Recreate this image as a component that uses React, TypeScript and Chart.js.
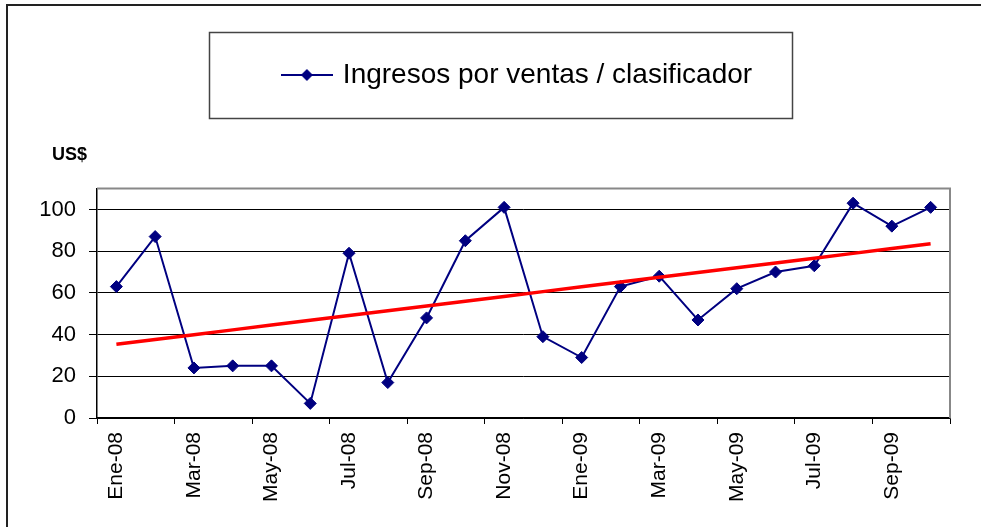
import React, { useEffect, useRef } from 'react';
import { Chart, registerables } from 'chart.js';

Chart.register(...registerables);

const months = ['Ene-08', 'Feb-08', 'Mar-08', 'Abr-08', 'May-08', 'Jun-08', 'Jul-08', 'Ago-08', 'Sep-08', 'Oct-08', 'Nov-08', 'Dic-08', 'Ene-09', 'Feb-09', 'Mar-09', 'Abr-09', 'May-09', 'Jun-09', 'Jul-09', 'Ago-09', 'Sep-09', 'Oct-09'];
const ingresos = [63, 87, 24, 25, 25, 7, 79, 17, 48, 85, 101, 39, 29, 63, 68, 47, 62, 70, 73, 103, 92, 101];
const seriesLabel = 'Ingresos por ventas / clasificador';
const yUnit = 'US$';
const yTicks = [0, 20, 40, 60, 80, 100];
const yMin = 0;
const yMax = 110;

// Excel-style linear trend line computed from the series (least squares)
function linearTrend(values: number[]): number[] {
  const n = values.length;
  const mx = (n - 1) / 2;
  const my = values.reduce((a, b) => a + b, 0) / n;
  let sxy = 0;
  let sxx = 0;
  values.forEach((v, i) => {
    sxy += (i - mx) * (v - my);
    sxx += (i - mx) * (i - mx);
  });
  const b = sxy / sxx;
  const a = my - b * mx;
  return values.map((_, i) => a + b * i);
}

const NAVY = '#000080';
const FONT = "'Liberation Sans', Arial, sans-serif";

export default function App() {
  const ref = useRef<HTMLCanvasElement | null>(null);

  useEffect(() => {
    document.body.style.margin = '0';
    const canvas = ref.current;
    if (!canvas) return;

    // legend marker: line with diamond
    const marker = document.createElement('canvas');
    marker.width = 52;
    marker.height = 16;
    const mctx = marker.getContext('2d')!;
    mctx.strokeStyle = NAVY;
    mctx.lineWidth = 2;
    mctx.beginPath();
    mctx.moveTo(0, 8);
    mctx.lineTo(52, 8);
    mctx.stroke();
    mctx.fillStyle = NAVY;
    mctx.beginPath();
    mctx.moveTo(26, 2);
    mctx.lineTo(32, 8);
    mctx.lineTo(26, 14);
    mctx.lineTo(20, 8);
    mctx.closePath();
    mctx.fill();

    const framePlugin = {
      id: 'framePlugin',
      afterLayout(chart: any) {
        // nudge the unit label and the legend horizontally, Excel-like placement
        if (chart.titleBlock) {
          chart.titleBlock.left += 14;
          chart.titleBlock.right += 14;
        }
        if (chart.legend) {
          chart.legend.left -= 5;
          chart.legend.right -= 5;
        }
      },
      beforeDraw(chart: any) {
        const { ctx, width, height } = chart;
        ctx.save();
        ctx.fillStyle = '#ffffff';
        ctx.fillRect(0, 0, width, height);
        ctx.strokeStyle = '#222222';
        ctx.lineWidth = 2;
        ctx.beginPath();
        ctx.moveTo(7, height + 5);
        ctx.lineTo(7, 5);
        ctx.lineTo(width + 5, 5);
        ctx.stroke();
        ctx.restore();
      },
      beforeDatasetsDraw(chart: any) {
        const { ctx, chartArea } = chart;
        ctx.save();
        ctx.strokeStyle = '#888888';
        ctx.lineWidth = 2;
        ctx.beginPath();
        ctx.moveTo(chartArea.left, chartArea.top);
        ctx.lineTo(chartArea.right, chartArea.top);
        ctx.lineTo(chartArea.right, chartArea.bottom);
        ctx.stroke();
        ctx.restore();
      },
      afterDraw(chart: any) {
        const legend = chart.legend;
        if (!legend || !legend.legendHitBoxes || !legend.legendHitBoxes.length) return;
        const hb = legend.legendHitBoxes[0];
        const { ctx } = chart;
        const cy = hb.top + hb.height / 2;
        const left = Math.round(hb.left - 76) + 0.5;
        const right = Math.round(hb.left + hb.width + 40) + 0.5;
        const top = Math.round(cy - 43) + 0.5;
        const bottom = Math.round(cy + 43) + 0.5;
        ctx.save();
        ctx.strokeStyle = '#444444';
        ctx.lineWidth = 1.5;
        ctx.strokeRect(left, top, right - left, bottom - top);
        ctx.restore();
      },
    };

    const chart = new Chart(canvas, {
      type: 'line',
      data: {
        labels: months,
        datasets: [
          {
            label: seriesLabel,
            data: ingresos,
            borderColor: NAVY,
            backgroundColor: NAVY,
            borderWidth: 2,
            pointStyle: 'rectRot',
            pointRadius: 6,
            pointBorderWidth: 1,
            pointBackgroundColor: NAVY,
            pointBorderColor: NAVY,
            tension: 0,
            order: 1,
          },
          {
            label: 'Tendencia',
            data: linearTrend(ingresos),
            borderColor: '#ff0000',
            borderWidth: 3.5,
            pointRadius: 0,
            tension: 0,
            order: 0,
          },
        ],
      },
      options: {
        animation: false,
        responsive: false,
        devicePixelRatio: 1,
        layout: { padding: { left: 38, right: 31, top: 0, bottom: 0 } },
        font: { family: FONT },
        plugins: {
          tooltip: { enabled: false },
          legend: {
            display: true,
            position: 'top',
            fullSize: false,
            weight: 1000,
            labels: {
              usePointStyle: true,
              pointStyleWidth: 44,
              padding: 61,
              color: '#000',
              font: { size: 28, family: FONT },
              generateLabels: (c: any) =>
                Chart.defaults.plugins.legend.labels
                  .generateLabels(c)
                  .filter((l: any) => l.datasetIndex === 0)
                  .map((l: any) => ({ ...l, pointStyle: marker })),
            },
          },
          title: {
            display: true,
            text: yUnit,
            align: 'start',
            position: 'top',
            weight: 500,
            color: '#000',
            font: { size: 18, weight: 'bold', family: FONT },
            padding: { top: 45, bottom: 23 },
          },
        },
        scales: {
          x: {
            type: 'category',
            offset: true,
            afterFit: (s: any) => {
              s.height = 109;
            },
            grid: {
              offset: true,
              drawOnChartArea: false,
              drawTicks: true,
              tickLength: 6,
              tickColor: (ctx: any) =>
                ctx.index === undefined || ctx.index % 2 === 0 ? '#000' : 'rgba(0,0,0,0)',
              tickWidth: 1,
            },
            border: { color: '#000', width: 1.5 },
            ticks: {
              autoSkip: false,
              maxRotation: 90,
              minRotation: 90,
              padding: 8,
              color: '#000',
              font: { size: 21, family: FONT },
              callback: (_v: any, i: number) => (i % 2 === 0 ? months[i] : ''),
            },
          },
          y: {
            min: yMin,
            max: yMax,
            afterFit: (s: any) => {
              s.width = 59;
            },
            afterBuildTicks: (s: any) => {
              s.ticks = yTicks.map((v) => ({ value: v }));
            },
            grid: {
              color: '#000',
              lineWidth: 1,
              drawTicks: true,
              tickLength: 8,
              tickColor: '#000',
            },
            border: { color: '#000', width: 1.5 },
            ticks: {
              padding: 13,
              color: '#000',
              font: { size: 22, family: FONT },
            },
          },
        },
      },
      plugins: [framePlugin],
    } as any);

    return () => chart.destroy();
  }, []);

  return (
    <div style={{ width: 981, height: 527 }}>
      <canvas ref={ref} width={981} height={527} />
    </div>
  );
}
